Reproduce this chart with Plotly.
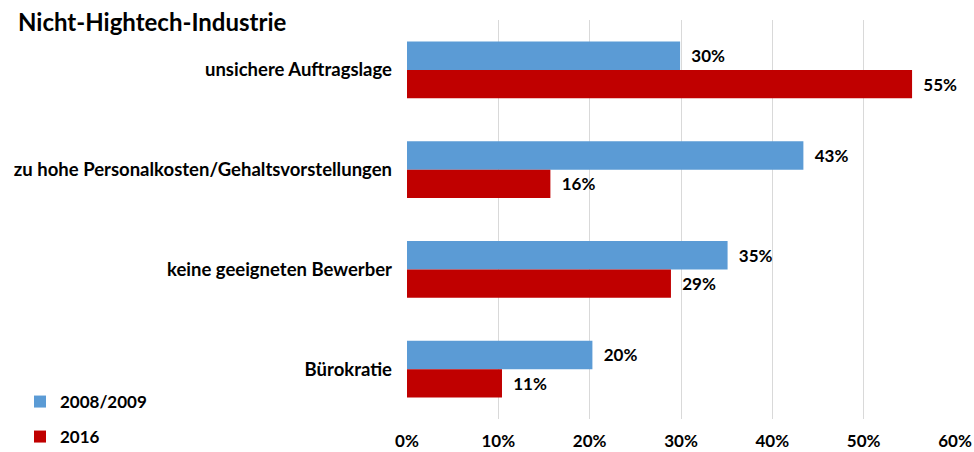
import plotly.graph_objects as go

categories = ["unsichere Auftragslage",
              "zu hohe Personalkosten/Gehaltsvorstellungen",
              "keine geeigneten Bewerber",
              "Bürokratie"]
series_names = ["2008/2009", "2016"]
values_2008 = [29.9, 43.4, 35.1, 20.3]
values_2016 = [55.3, 15.7, 28.9, 10.4]
labels_2008 = ["30%", "43%", "35%", "20%"]
labels_2016 = ["55%", "16%", "29%", "11%"]
tick_vals = [0, 10, 20, 30, 40, 50, 60]
tick_text = ["0%", "10%", "20%", "30%", "40%", "50%", "60%"]

FONT = "Lato, 'Open Sans', sans-serif"
W, H = 974, 452
L, R, T, B = 407, 19, 20, 33
PW, PH = W - L - R, H - T - B

def px_x(x):
    return (x - L) / PW

def px_y(y):
    return (H - B - y) / PH

fig = go.Figure()
fig.add_trace(go.Bar(
    y=categories, x=values_2008, name=series_names[0], orientation="h",
    marker=dict(color="#5B9BD5", line=dict(width=0)),
    text=["  " + t for t in labels_2008], textposition="outside",
    textfont=dict(family=FONT, size=17, color="#000000", weight="bold"),
    cliponaxis=False, legend="legend",
))
fig.add_trace(go.Bar(
    y=categories, x=values_2016, name=series_names[1], orientation="h",
    marker=dict(color="#C00000", line=dict(width=0)),
    text=["  " + t for t in labels_2016], textposition="outside",
    textfont=dict(family=FONT, size=17, color="#000000", weight="bold"),
    cliponaxis=False, legend="legend2",
))

legend_common = dict(xanchor="left", yanchor="middle",
                     font=dict(family=FONT, size=17, color="#000000", weight="bold"),
                     bgcolor="rgba(0,0,0,0)", borderwidth=0)

fig.update_layout(
    width=W, height=H,
    margin=dict(l=L, r=R, t=T, b=B, autoexpand=False),
    paper_bgcolor="white", plot_bgcolor="white",
    barmode="group", bargap=0.43, bargroupgap=0,
    title=dict(text="<b>Nicht-Hightech-Industrie</b>", x=18 / W, xanchor="left",
               xref="container", yref="container", y=1 - 23 / H, yanchor="middle",
               font=dict(family=FONT, size=24, color="#000000")),
    xaxis=dict(range=[0, 60], tickvals=tick_vals, ticktext=tick_text,
               showgrid=True, gridcolor="#D9D9D9", gridwidth=1.3,
               zeroline=False, showline=False, ticks="", automargin=False,
               ticklabelstandoff=10,
               tickfont=dict(family=FONT, size=17, color="#000000", weight="bold")),
    yaxis=dict(autorange="reversed", showgrid=False, showline=False, ticks="",
               automargin=False, ticklabelstandoff=14,
               tickfont=dict(family=FONT, size=18.5, color="#000000", weight="bold")),
    legend=dict(x=px_x(20), y=px_y(402), **legend_common),
    legend2=dict(x=px_x(20), y=px_y(437), **legend_common),
    showlegend=True,
)

fig.write_html("out.html", config={"displayModeBar": False},
               post_script="document.body.style.margin='0';document.body.style.overflow='hidden';")
